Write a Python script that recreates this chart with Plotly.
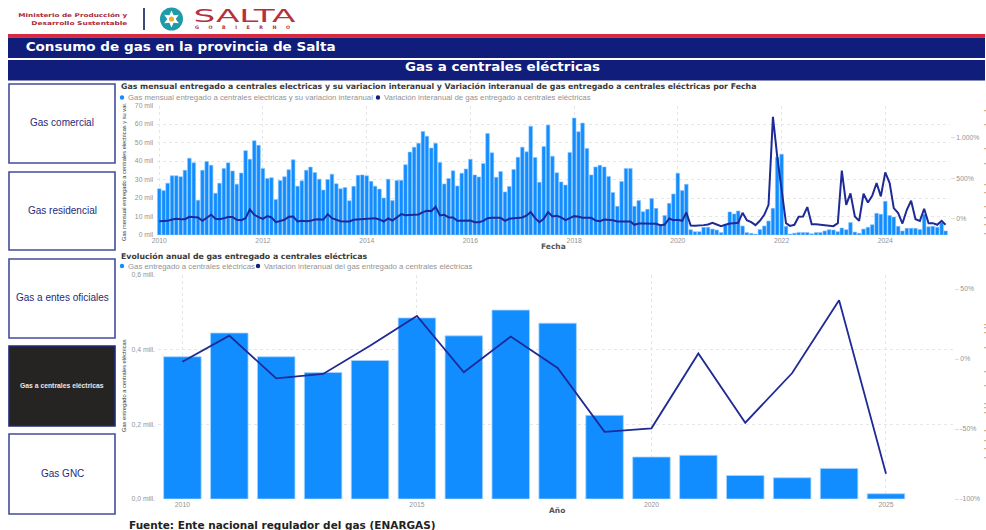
import json
import math
import plotly.graph_objects as go

W, H = 986, 530
NAVY = "#101d7a"
BLUE = "#118DFF"
LINE = "#1e2a96"
GRAY = "#939393"
DARK = "#3a3a3a"
SERIF = "DejaVu Sans"
NARROW = "Liberation Sans Narrow, Liberation Sans"
SANS = "Liberation Sans"

# --- data ---
monthly_gas_mil = [
    25, 24, 28, 32, 32, 31.5, 35, 41.5, 39, 18.8, 35, 39.7,
    37.7, 22.6, 28, 36, 39, 34.6, 27.5, 33.5, 45.6, 41, 51, 48.5,
    36, 30.5, 31, 19.2, 29.5, 31.5, 35.3, 40.7, 26.4, 29.3, 35, 36.7,
    33.8, 30.2, 24.3, 30, 32.9, 27.7, 25, 25.7, 18.5, 26.3, 32.3, 32.5,
    32, 29, 26.4, 24.8, 20, 30.2, 18.7, 29.5, 29.6, 38, 44.8, 47.5,
    49.6, 56, 53.4, 47, 49.6, 39.2, 27.6, 30.5, 34.7, 26.5, 33.4, 35.7,
    41, 32.5, 31.4, 38.6, 54.9, 44.4, 31.2, 34.3, 23.3, 26.2, 35.4, 42,
    47.5, 45, 58.8, 41.9, 28.5, 47.8, 59.4, 42.6, 33.6, 28.7, 27, 44.6,
    63.2, 55.8, 60.5, 46.8, 32.5, 36.8, 37.7, 36.8, 31.6, 23, 15.5, 28.9,
    36, 36, 15.5, 18.6, 12.6, 13.9, 19.7, 14.4, 5.4, 10.6, 17.1, 22.2,
    33.4, 24, 27.4, 2.9, 1.8, 1.8, 4.2, 4.2, 3.2, 2.7, 1.3, 5.4,
    12.5, 11.4, 13, 4.9, 1.3, 0.9, 0.5, 3, 4.9, 7.6, 14.4, 42,
    43.7, 4.7, 0.5, 1, 1.4, 1.3, 1.4, 0.7, 1.4, 1.4, 2.2, 2.9,
    2.7, 1.8, 3.8, 2.9, 6.7, 1.6, 1, 3.2, 4.2, 5.6, 11.7, 11.2,
    18.2, 10.5, 9.7, 4.7, 2.2, 3.6, 3.6, 3.6, 3, 11.2, 4.5, 4.7,
    4.2, 6.7, 2.2,
]
monthly_var_pct = [
    -29, -29, -25, -8, 0, -4, -4, 25, 17, 17, -25, 17,
    50, 0, -4, 8, 21, 21, -12, -17, 8, 116, 50, 21,
    0, 33, 17, -41, -25, -12, 25, 29, -33, -25, -29, -25,
    -8, -4, -12, 58, 8, -12, -29, -33, -33, -12, -8, -8,
    -8, -4, 8, -8, -33, 4, -21, 17, 58, 45, 45, 45,
    54, 83, 99, 95, 149, 41, 50, 17, 17, -25, -25, -25,
    -21, -41, -41, -25, 8, 12, 12, 12, -25, 0, 8, 17,
    17, 41, 83, 8, -41, 0, 83, 29, 37, 17, -17, 8,
    33, 25, 12, 12, 12, -21, -29, -8, -8, -17, -33, -33,
    -33, -33, -74, -58, -58, -58, -54, -62, -78, -70, 4, -17,
    -12, -25, 78, -83, -87, -87, -78, -70, -50, -70, -91, -74,
    -58, -54, -50, 74, -17, -41, -78, -25, 50, 173, 1260, 772,
    339, -54, -87, -74, 25, 29, 145, -66, -66, -74, -78, -87,
    -91, -54, 595, 173, 314, 29, -25, 310, 202, 285, 442, 277,
    574, 442, 132, 70, -58, 112, 223, -4, -25, 124, -54, -54,
    -74, -25, -74,
]
years = list(range(2010, 2026))
annual_gas_mill = [0.381, 0.4446, 0.381, 0.339, 0.371, 0.485, 0.437, 0.506,
                   0.471, 0.224, 0.1125, 0.117, 0.063, 0.057, 0.082, 0.014]
annual_var_pct = [-2, 16.7, -13.8, -10.7, 9.4, 30.7, -9.5, 16,
                  -6.4, -52, -49.5, 4, -45.5, -10, 42, -82]

months = [f"{2010 + i // 12}-{i % 12 + 1:02d}-01" for i in range(len(monthly_gas_mil))]

nav_labels = ["Gas comercial", "Gas residencial", "Gas a entes oficiales",
              "Gas a centrales eléctricas", "Gas GNC"]
nav_tops = [84, 172, 259, 346, 434]
nav_bottoms = [163, 250, 338, 426, 514]
# clipped remnants of text along the right edge of the page
edge_marks_y = [110, 124, 148, 163, 184, 192, 206, 217, 224, 233, 324, 327, 332, 347, 371, 385, 403, 407, 412, 430, 440, 448, 457]

fig = go.Figure()
fig.add_trace(go.Bar(x=months, y=monthly_gas_mil, xaxis="x", yaxis="y",
                     marker=dict(color=BLUE, line=dict(color="#8cc6ff", width=0.6)),
                     width=2200000000, showlegend=False))
fig.add_trace(go.Scatter(x=months, y=monthly_var_pct, xaxis="x", yaxis="y2", mode="lines",
                         line=dict(color=LINE, width=2), showlegend=False))
fig.add_trace(go.Bar(x=years, y=annual_gas_mill, xaxis="x3", yaxis="y3", width=0.8,
                     marker=dict(color=BLUE, line=dict(color="#a8d4ff", width=0.8)),
                     showlegend=False))
fig.add_trace(go.Scatter(x=years, y=annual_var_pct, xaxis="x3", yaxis="y4", mode="lines",
                         line=dict(color=LINE, width=1.8), showlegend=False))


def px(x):
    return x / W


def py(y):
    return 1 - y / H


grid = dict(showgrid=True, gridcolor="#e6e6e6", griddash="dot", gridwidth=1, zeroline=False,
            showline=False, ticks="", automargin=False, tickfont=dict(family=SANS, size=6.8, color=GRAY))
right = dict(showgrid=False, zeroline=False, ticks="outside", ticklen=4, tickcolor="#dddddd", automargin=False,
             tickfont=dict(family=SANS, size=6.8, color=GRAY))

shapes = []
ann = []
stretched = {}


def rect(x0, y0, x1, y1, fill, line=None, lw=0):
    shapes.append(dict(type="rect", xref="paper", yref="paper", x0=px(x0), x1=px(x1), y0=py(y1), y1=py(y0),
                       fillcolor=fill, line=dict(color=line or fill, width=lw), layer="below"))


def text(x, y, s, size, color, family=SANS, anchor="left", bold=False, angle=0):
    ann.append(dict(xref="paper", yref="paper", x=px(x), y=py(y), text=f"<b>{s}</b>" if bold else s,
                    showarrow=False, xanchor=anchor, yanchor="middle", textangle=angle,
                    font=dict(size=size, color=color, family=family)))


def wide(x0, x1, y, s, size, color, family=SERIF, bold=True):
    # the reference's text is stretched horizontally: span x0..x1 at a small font size
    text((x0 + x1) / 2, y, s, size, color, family, "center", bold)
    stretched[s] = x1 - x0


def disc(x, y, r, color):
    shapes.append(dict(type="circle", xref="paper", yref="paper", x0=px(x - r), x1=px(x + r),
                       y0=py(y + r), y1=py(y - r), fillcolor=color, line=dict(width=0)))


# header
wide(18, 127, 15.5, "Ministerio de Producción y", 5.3, "#a52a3a")
wide(31, 127, 22.5, "Desarrollo Sustentable", 5.3, "#a52a3a")
rect(143, 8, 145, 30, "#3b4a78")
disc(171.5, 19, 11.5, "#1f9aa8")
star = []
for k in range(12):
    a = math.pi / 6 * k - math.pi / 2
    r = 8.5 if k % 2 == 0 else 4.2
    star.append(f"{px(171.5 + r * math.cos(a)):.5f} {py(19 + r * math.sin(a)):.5f}")
shapes.append(dict(type="path", xref="paper", yref="paper", path="M " + " L ".join(star) + " Z",
                   fillcolor="#ffffff", line=dict(width=0)))
disc(171.5, 19, 2.6, "#e8b23a")
wide(193, 295, 16, "SALTA", 18.5, "#b5303f", SERIF, False)
text(247, 28, "GOBIERNO", 4.8, "#b5303f", SERIF, "center", True)

# bands
rect(8, 34, 985, 37.5, "#d6293e")
rect(8, 37.5, 985, 58, NAVY)
rect(8, 60, 985, 80.5, NAVY)
wide(25, 335, 47, "Consumo de gas en la provincia de Salta", 11.5, "#ffffff")
wide(405, 600, 67, "Gas a centrales eléctricas", 11.5, "#ffffff")

# nav buttons
for label, top, bot in zip(nav_labels, nav_tops, nav_bottoms):
    active = label == "Gas a centrales eléctricas"
    rect(9, top, 115, bot, "#252423" if active else "#ffffff", "#1f2a7c" if active else "#444c9c", 1.6)
    text(62, (top + bot) / 2 - 1, label, 6.8 if active else 10,
         "#e8e8e8" if active else "#1f2a7c", SANS, "center", active)

# clipped text remnants at the right edge
for my in edge_marks_y:
    rect(984, my, 986, my + 1.2, "#d9b48c")

# titles & legends
text(119, 87, "Gas mensual entregado a centrales electricas y su variacion interanual y Variación interanual de gas entregado a centrales eléctricas por Fecha",
     7.8, DARK, SERIF, "left", True)
disc(122, 97.5, 2.2, BLUE)
text(126, 97.5, "Gas mensual entregado a centrales electricas y su variacion interanual", 7.8, GRAY, SANS)
disc(378, 97.5, 2.2, NAVY)
text(382, 97.5, "Variación interanual de gas entregado a centrales eléctricas", 7.8, GRAY, SANS)
text(119, 256, "Evolución anual de gas entregado a centrales eléctricas", 7.8, DARK, SERIF, "left", True)
disc(122, 266, 2.2, BLUE)
text(126, 266, "Gas entregado a centrales eléctricas", 7.8, GRAY, SANS)
disc(258, 266, 2.2, NAVY)
text(262, 266, "Variación interanual del gas entregado a centrales eléctricas", 7.8, GRAY, SANS)
text(124, 172, "Gas mensual entregado a centrales electricas y su var.", 5.7, DARK, NARROW, "center", False, -90)
text(124, 386, "Gas entregado a centrales eléctricas", 5.7, DARK, NARROW, "center", False, -90)
text(553, 246, "Fecha", 7.5, "#555555", SERIF, "center", True)
text(557, 510, "Año", 7.5, "#555555", SERIF, "center", True)
text(127, 524.5, "Fuente: Ente nacional regulador del gas (ENARGAS)", 10.5, "#222222", SERIF, "left", True)

fig.update_layout(
    template="none",
    width=W, height=H, margin=dict(l=0, r=0, t=0, b=0, pad=0), autosize=False,
    paper_bgcolor="#ffffff", plot_bgcolor="#ffffff", barmode="overlay",
    shapes=shapes, annotations=ann,
    xaxis=dict(domain=[px(157), px(950)], anchor="y", type="date", range=["2009-12-16", "2025-04-01"],
               dtick="M24", tick0="2010-01-01", tickformat="%Y", **grid),
    yaxis=dict(domain=[py(235), py(105.5)], anchor="x", range=[0, 70], ticklabelstandoff=3,
               tickvals=[0, 10, 20, 30, 40, 50, 60, 70],
               ticktext=[f"{v} mil" for v in [0, 10, 20, 30, 40, 50, 60, 70]], **grid),
    yaxis2=dict(domain=[py(235), py(105.5)], anchor="x", overlaying="y", side="right", range=[-200, 1400],
                tickvals=[0, 500, 1000], ticktext=["0%", "500%", "1.000%"], **right),
    xaxis3=dict(domain=[px(158), px(954)], anchor="y3", range=[2009.48, 2026.45],
                tickvals=[2010, 2015, 2020, 2025], tickformat="d", **grid),
    yaxis3=dict(domain=[py(499), py(275)], anchor="x3", range=[0, 0.6], tickvals=[0, 0.2, 0.4, 0.6], ticklabelstandoff=2,
                ticktext=["0,0 mill.", "0,2 mill.", "0,4 mill.", "0,6 mill."], **grid),
    yaxis4=dict(domain=[py(499), py(275)], anchor="x3", overlaying="y3", side="right", range=[-100, 60],
                tickvals=[-100, -50, 0, 50], ticktext=["-100%", "-50%", "0%", "50%"], **right),
)

post = """
document.body.style.margin='0';document.body.style.overflow='hidden';
var spans = %s;
document.querySelectorAll('text.annotation-text').forEach(function(t){
  var k = t.textContent;
  if(spans[k]){t.setAttribute('textLength', spans[k]);t.setAttribute('lengthAdjust','spacingAndGlyphs');delete spans[k];}
  if(k==='GOBIERNO'){t.style.letterSpacing='9.5px';}
});
""" % json.dumps(stretched)
fig.write_html("out.html", post_script=post, config={"displayModeBar": False})
